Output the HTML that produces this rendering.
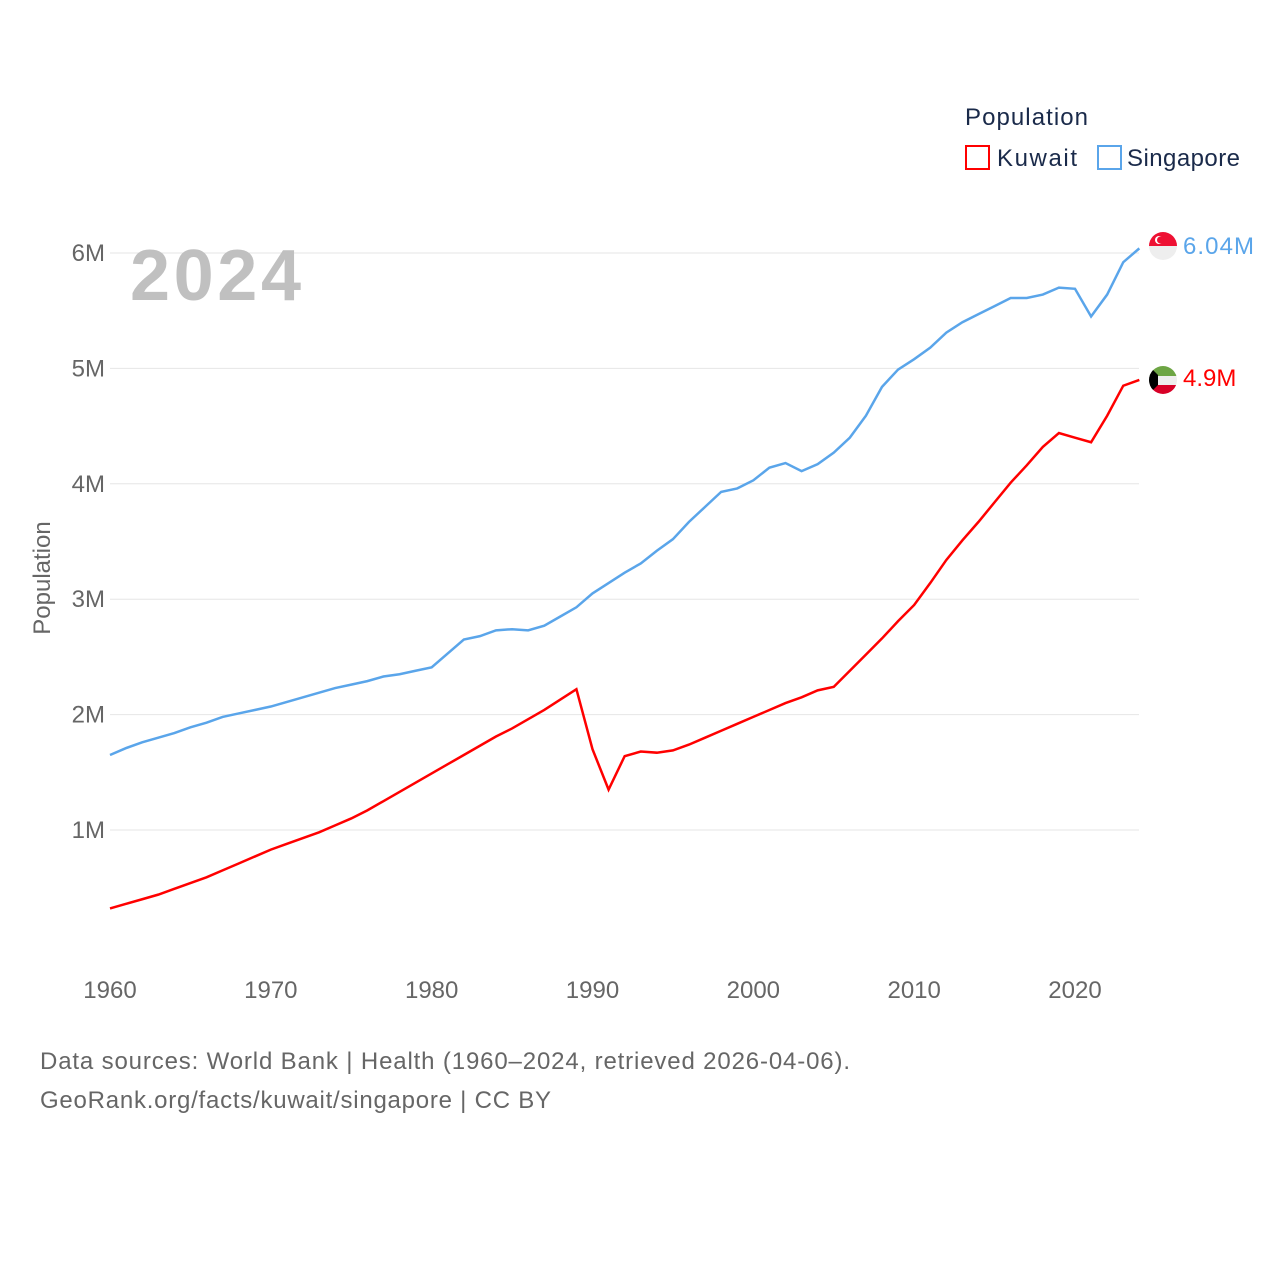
<!DOCTYPE html>
<html><head><meta charset="utf-8"><style>
body{margin:0;background:#fff;font-family:"Liberation Sans",sans-serif}
svg text{font-family:"Liberation Sans",sans-serif}
</style></head><body>
<svg id="chart" width="1280" height="1280" xmlns="http://www.w3.org/2000/svg">
<defs>
<clipPath id="c1"><circle cx="1163" cy="246" r="14"/></clipPath>
<clipPath id="c2"><circle cx="1163" cy="380" r="14"/></clipPath>
</defs>
<g id="grid"></g>
<g id="lines"></g>
<text x="965" y="125" font-size="24" fill="#1a2a4a" textLength="123">Population</text>
<rect x="966" y="146" width="23" height="23" fill="none" stroke="#ff0000" stroke-width="2"/>
<text x="997" y="166" font-size="24" fill="#1a2a4a" textLength="80">Kuwait</text>
<rect x="1098" y="146" width="23" height="23" fill="none" stroke="#5aa5ea" stroke-width="2"/>
<text x="1127" y="166" font-size="24" fill="#1a2a4a" textLength="113">Singapore</text>
<text x="130" y="300" font-size="72" font-weight="bold" fill="#c0c0c0" textLength="171">2024</text>
<text transform="translate(50,578) rotate(-90)" text-anchor="middle" font-size="24" fill="#666">Population</text>
<g clip-path="url(#c1)">
<rect x="1149" y="232" width="28" height="14" fill="#ee1133"/><rect x="1149" y="246" width="28" height="14" fill="#eee"/>
<circle cx="1159" cy="240" r="4" fill="#fff"/><circle cx="1160.5" cy="240" r="3.5" fill="#ee1133"/>
</g>
<g clip-path="url(#c2)">
<rect x="1149" y="366" width="28" height="10" fill="#6da544"/><rect x="1149" y="376" width="28" height="9" fill="#eee"/><rect x="1149" y="385" width="28" height="10" fill="#d80027"/>
<polygon points="1149,366 1158,375 1158,385 1149,394" fill="#000"/>
</g>
<text x="1183" y="254" font-size="24" fill="#5aa5ea" textLength="71">6.04M</text>
<text x="1183" y="386" font-size="24" fill="#ff0000">4.9M</text>
<text x="40" y="1069" font-size="24" fill="#666" textLength="810">Data sources: World Bank | Health (1960–2024, retrieved 2026-04-06).</text>
<text x="40" y="1108" font-size="24" fill="#666" textLength="511">GeoRank.org/facts/kuwait/singapore | CC BY</text>
</svg>
<script>
const years=[];for(let y=1960;y<=2024;y++)years.push(y);
const singapore=[1.65,1.71,1.76,1.80,1.84,1.89,1.93,1.98,2.01,2.04,2.07,2.11,2.15,2.19,2.23,2.26,2.29,2.33,2.35,2.38,2.41,2.53,2.65,2.68,2.73,2.74,2.73,2.77,2.85,2.93,3.05,3.14,3.23,3.31,3.42,3.52,3.67,3.80,3.93,3.96,4.03,4.14,4.18,4.11,4.17,4.27,4.40,4.59,4.84,4.99,5.08,5.18,5.31,5.40,5.47,5.54,5.61,5.61,5.64,5.70,5.69,5.45,5.64,5.92,6.04];
const kuwait=[0.32,0.36,0.40,0.44,0.49,0.54,0.59,0.65,0.71,0.77,0.83,0.88,0.93,0.98,1.04,1.10,1.17,1.25,1.33,1.41,1.49,1.57,1.65,1.73,1.81,1.88,1.96,2.04,2.13,2.22,1.70,1.35,1.64,1.68,1.67,1.69,1.74,1.80,1.86,1.92,1.98,2.04,2.10,2.15,2.21,2.24,2.38,2.52,2.66,2.81,2.95,3.14,3.34,3.51,3.67,3.84,4.01,4.16,4.32,4.44,4.40,4.36,4.59,4.85,4.90];
const yTicks=[1,2,3,4,5,6];
const xTicks=[1960,1970,1980,1990,2000,2010,2020];
const NS="http://www.w3.org/2000/svg";
const xs=y=>110+(y-1960)*(965/60);
const ys=v=>945.4-v*115.4;
const grid=document.getElementById('grid');
yTicks.forEach(t=>{
 const l=document.createElementNS(NS,'line');
 l.setAttribute('x1',110);l.setAttribute('x2',1139);l.setAttribute('y1',ys(t));l.setAttribute('y2',ys(t));
 l.setAttribute('stroke','#e6e6e6');
 
 
 grid.appendChild(l);
 const tx=document.createElementNS(NS,'text');
 tx.setAttribute('x',105);tx.setAttribute('y',ys(t)+8);tx.setAttribute('text-anchor','end');
 tx.setAttribute('font-size','24');tx.setAttribute('fill','#666');tx.textContent=t+'M';
 
 
 grid.appendChild(tx);
});
xTicks.forEach(t=>{
 const tx=document.createElementNS(NS,'text');
 tx.setAttribute('x',xs(t));tx.setAttribute('y',998);tx.setAttribute('text-anchor','middle');
 tx.setAttribute('font-size','24');tx.setAttribute('fill','#666');tx.textContent=t;
 
 
 grid.appendChild(tx);
});
const lines=document.getElementById('lines');
[[singapore,'#5aa5ea','singapore-line'],[kuwait,'#ff0000','kuwait-line']].forEach(([d,c,n])=>{
 const p=document.createElementNS(NS,'polyline');
 p.setAttribute('points',d.map((v,i)=>xs(years[i])+','+ys(v)).join(' '));
 p.setAttribute('fill','none');p.setAttribute('stroke',c);p.setAttribute('stroke-width','2.5');
 
 
 lines.appendChild(p);
});
</script>
</body></html>
